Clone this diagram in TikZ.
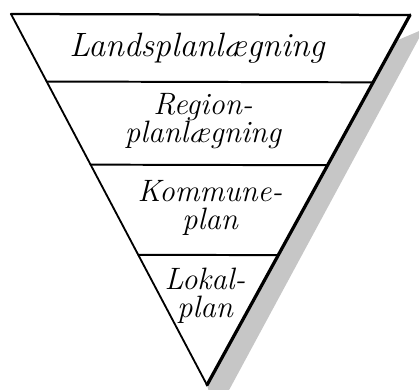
\documentclass[tikz,border=0pt]{standalone}
\usepackage{tikz}
\usetikzlibrary{calc}

\begin{document}
\begin{tikzpicture}[x=0.025cm, y=-0.025cm,
    rim/.style={line width=1.3pt, line cap=round, line join=round},
    band/.style={line width=1.4pt, line cap=round},
    shade/.style={fill=gray!45},
    level/.style={font=\fontsize{22}{20}\selectfont\itshape, align=center, inner sep=0pt}
  ]
  \useasboundingbox (0,0) rectangle (419,389);
  \coordinate (tl) at (11,14);
  \coordinate (tr) at (410,15);
  \coordinate (apex) at (207,385);

  % shadow along the right side
  \begin{scope}
    \clip (0,0) rectangle (419,389);
    \fill[shade] ($(tr)!0.07!(apex)$) -- (424,29) -- (228,392) -- (209,392) -- (apex) -- cycle;
  \end{scope}

  % the funnel
  \draw[rim, line width=1.6pt] (tl) -- (tr);
  \draw[rim] (tl) -- (apex);
  \draw[rim, line width=2.3pt] (tr) -- (apex);
  \foreach \f [count=\i] in {0.182,0.406,0.649} {
    \coordinate (l\i) at ($(tl)!\f!(apex)$);
    \coordinate (r\i) at ($(tr)!\f!(apex)$);
    \draw[band] (l\i) -- (r\i);
  }

  \node[level, font=\fontsize{24}{20}\selectfont\itshape] (land) at (197,48) {Landsplanlægning};
  \node[level] (region) at (203,121) {Region-\\planlægning};
  \node[level] (kommune) at (210,208) {Kommune-\\plan};
  \node[level] (lokal) at (205,296) {Lokal-\\plan};
\end{tikzpicture}
\end{document}
